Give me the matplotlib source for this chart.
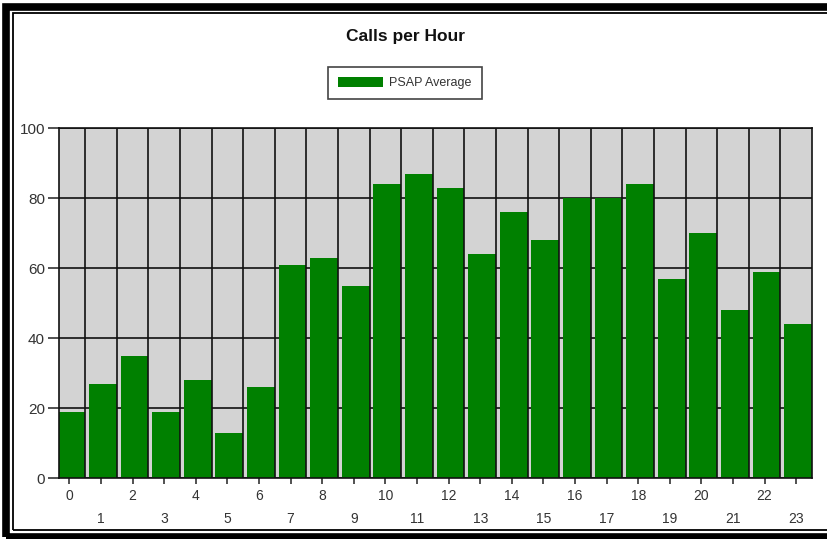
import matplotlib
matplotlib.use('Agg')
import matplotlib.pyplot as plt
from matplotlib.patches import Rectangle
import numpy as np

hours = list(range(24))
calls = [19, 27, 35, 19, 28, 13, 26, 61, 63, 55, 84, 87,
         83, 64, 76, 68, 80, 80, 84, 57, 70, 48, 59, 44]
yticks = [0, 20, 40, 60, 80, 100]

W, H = 827, 539
plt.rcParams['font.family'] = ['Liberation Sans', 'DejaVu Sans']

fig = plt.figure(figsize=(W / 100, H / 100), dpi=100)
fig.patch.set_facecolor('white')


def px_rect(x0, y0, x1, y1, **kw):
    # rectangle given in pixel coords from top-left
    r = Rectangle((x0 / W, 1 - y1 / H), (x1 - x0) / W, (y1 - y0) / H,
                  transform=fig.transFigure, **kw)
    fig.patches.append(r)


# picture frame: thick black band, white gap, thin black line (right side cut off)
px_rect(6, 6.5, 850, 537, facecolor='none', edgecolor='black', linewidth=5.5)
px_rect(13, 13, 850, 530, facecolor='none', edgecolor='black', linewidth=1.3)

ax = fig.add_axes([59 / W, 1 - 478 / H, (812 - 59) / W, (478 - 128) / H])
ax.set_facecolor('#d3d3d3')

x = np.array(hours)
ax.bar(x - 0.38, calls, width=0.88, align='edge', color='#008000',
       zorder=2, label='PSAP Average')

# grid: horizontal under the bars, vertical boundaries over them
for v in yticks:
    ax.axhline(v, color='#111111', linewidth=1.2, zorder=1)
for b in x[:-1] + 0.5:
    ax.axvline(b, color='#111111', linewidth=1.2, zorder=3)

ax.set_xlim(-0.33, 23.5)
ax.set_ylim(0, 100)
for s in ax.spines.values():
    s.set_color('#111111')
    s.set_linewidth(1.2)
    s.set_zorder(4)

ax.set_yticks(yticks)
ax.set_yticklabels([str(v) for v in yticks], fontsize=11, color='#333333')
ax.tick_params(axis='y', length=8, width=1.2, color='#333333', pad=2)

ax.set_xticks(x)
ax.set_xticklabels([str(h) if h % 2 == 0 else '\n' + str(h) for h in hours],
                   fontsize=10, color='#333333', linespacing=1.85)
ax.tick_params(axis='x', length=4, width=1.2, color='#333333', pad=4)

fig.text(405 / W, 1 - 36 / H, 'Calls per Hour', ha='center', va='center',
         fontsize=12.5, fontweight='bold', color='#111111')

leg = fig.legend(loc='center', bbox_to_anchor=(405 / W, 1 - 83 / H),
                 fontsize=9, frameon=True, fancybox=False, framealpha=1,
                 handlelength=3.6, handleheight=0.9, borderpad=0.8,
                 borderaxespad=0, handletextpad=0.5)
leg.get_frame().set_edgecolor('#444444')
leg.get_frame().set_linewidth(1.2)
for t in leg.get_texts():
    t.set_color('#333333')

fig.savefig('out.png', dpi=100)
